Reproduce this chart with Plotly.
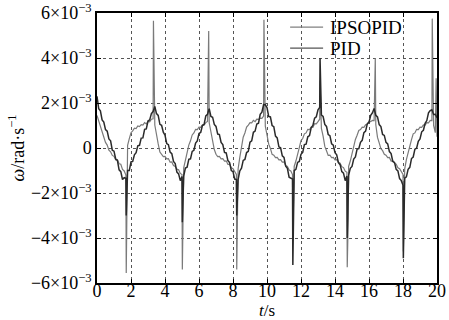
import numpy as np
import plotly.graph_objects as go

# time grid (s) for the sampled curves
t_base = [round(0.1 * i, 1) for i in range(201)]

# PID response (units of 1e-3 rad/s)
pid_v = [
    2.3, 1.75, 1.65, 1.25, 1.15, 0.82, 0.75, 0.4, 0.32, -0.1,
    -0.14, -0.49, -0.55, -0.97, -1.05, -1.4, -1.32, -1.35, -1.0, -1.0,
    -0.62, -0.6, -0.3, -0.21, 0.1, 0.12, 0.44, 0.45, 0.83, 0.85,
    1.2, 1.25, 1.53, 1.62, 1.85, 1.53, 1.45, 1.05, 1.01, 0.7,
    0.57, 0.2, 0.15, -0.18, -0.25, -0.6, -0.69, -1.07, -1.15, -1.45,
    -1.27, -1.25, -0.89, -0.85, -0.5, -0.48, -0.15, -0.1, 0.22, 0.31,
    0.65, 0.69, 1.0, 1.05, 1.43, 1.5, 1.75, 1.4, 1.37, 1.05,
    0.96, 0.62, 0.6, 0.25, 0.15, -0.2, -0.22, -0.56, -0.65, -1.0,
    -1.05, -1.38, -1.4, -1.4, -1.02, -0.9, -0.55, -0.51, -0.2, -0.15,
    0.26, 0.32, 0.7, 0.75, 1.07, 1.1, 1.5, 1.59, 1.93, 1.92,
    1.8, 1.4, 1.38, 1.0, 0.95, 0.53, 0.45, 0.05, 0.01, -0.35,
    -0.42, -0.81, -0.9, -1.3, -1.34, -1.38, -1.0, -0.95, -0.64, -0.6,
    -0.28, -0.2, 0.15, 0.17, 0.5, 0.55, 0.91, 1.0, 1.33, 1.39,
    1.7, 1.8, 1.47, 1.4, 1.05, 0.96, 0.6, 0.55, 0.19, 0.13,
    -0.21, -0.3, -0.65, -0.74, -1.05, -1.12, -1.45, -1.25, -1.21, -0.9,
    -0.82, -0.49, -0.4, -0.05, -0.03, 0.25, 0.34, 0.68, 0.75, 1.07,
    1.14, 1.45, 1.56, 1.76, 1.45, 1.38, 1.04, 0.95, 0.6, 0.56,
    0.25, 0.18, -0.16, -0.25, -0.6, -0.64, -0.95, -1.02, -1.36, -1.45,
    -1.65, -1.34, -1.28, -0.95, -0.86, -0.47, -0.4, -0.05, -0.01, 0.3,
    0.4, 0.72, 0.79, 1.1, 1.22, 1.56, 1.66, 1.7, 1.49, 1.5,
    1.35,
]

# IPSOPID response (units of 1e-3 rad/s)
ipso_v = [
    1.45, 1.2, 1.05, 0.72, 0.55, 0.25, 0.13, -0.1, -0.17, -0.33,
    -0.37, -0.53, -0.52, -0.7, -0.72, -0.95, -1.02, -1.2, 0.12, 0.42,
    0.68, 0.76, 0.88, 0.86, 0.98, 0.95, 1.04, 1.02, 1.13, 1.07,
    1.18, 1.16, 1.28, 1.3, 1.02, 0.5, 0.18, -0.18, -0.27, -0.38,
    -0.37, -0.48, -0.47, -0.63, -0.62, -0.78, -0.82, -0.94, -0.97, -1.13,
    -1.18, -0.88, -0.52, -0.23, 0.13, 0.32, 0.58, 0.67, 0.83, 0.82,
    0.93, 0.92, 1.03, 1.02, 1.13, 1.18, 1.12, 0.72, 0.27, -0.07,
    -0.28, -0.38, -0.37, -0.48, -0.47, -0.58, -0.57, -0.73, -0.72, -0.88,
    -0.92, -1.08, -1.17, -0.93, -0.42, 0.07, 0.48, 0.67, 0.93, 1.02,
    1.13, 1.12, 1.23, 1.17, 1.28, 1.27, 1.33, 1.32, 1.42, 0.97,
    0.58, 0.17, -0.02, -0.28, -0.32, -0.43, -0.42, -0.53, -0.52, -0.63,
    -0.62, -0.78, -0.82, -0.98, -1.02, -1.18, -0.82, -0.58, -0.22, 0.02,
    0.33, 0.42, 0.63, 0.67, 0.83, 0.82, 0.93, 0.92, 1.08, 1.07,
    1.17, 1.28, 0.87, 0.53, 0.07, -0.12, -0.33, -0.32, -0.43, -0.42,
    -0.53, -0.52, -0.63, -0.67, -0.83, -0.87, -1.03, -1.08, -0.82, -0.58,
    -0.22, 0.02, 0.38, 0.57, 0.78, 0.82, 0.93, 0.92, 1.03, 1.07,
    1.18, 1.17, 1.23, 1.22, 1.03, 0.47, 0.23, -0.03, -0.12, -0.28,
    -0.32, -0.43, -0.42, -0.58, -0.57, -0.68, -0.72, -0.88, -0.92, -1.08,
    -1.17, -0.93, -0.52, -0.18, 0.18, 0.37, 0.63, 0.67, 0.83, 0.82,
    0.93, 0.92, 1.03, 1.02, 1.13, 1.12, 1.23, 1.22, 1.0, 0.68,
    0.5,
]

# spikes at the direction reversals
ipso_spike_t = [1.72, 3.32, 5.02, 6.57, 8.22, 9.82, 11.52, 13.12, 14.72, 14.78, 16.37, 18.02, 18.06, 19.72, 19.95]
ipso_spike_v = [-5.55, 5.65, -5.4, 5.2, -5.4, 5.7, -4.0, 3.0, -5.3, -3.1, 4.0, -4.6, -3.4, 5.75, 3.1]
pid_spike_t = [1.72, 5.02, 8.22, 11.52, 13.12, 14.72, 18.02]
pid_spike_v = [-3.0, -3.3, -3.0, -5.2, 4.0, -4.0, -4.9]

x_ticks = list(range(0, 21, 2))
y_ticks = [-6, -4, -2, 0, 2, 4, 6]
y_ticktext = ["−6×10<sup>−3</sup>", "−4×10<sup>−3</sup>", "−2×10<sup>−3</sup>", "0",
              "2×10<sup>−3</sup>", "4×10<sup>−3</sup>", "6×10<sup>−3</sup>"]
series_names = ["IPSOPID", "PID"]
series_colors = ["#7a7a7a", "#2a2a2a"]
legend_line_colors = ["#808080", "#555555"]


def merge(tb, vb, ts, vs):
    t = np.array(list(tb) + list(ts))
    v = np.array(list(vb) + list(vs))
    o = np.argsort(t, kind="stable")
    return t[o], v[o]


t_ip, v_ip = merge(t_base, ipso_v, ipso_spike_t, ipso_spike_v)
t_pid, v_pid = merge(t_base, pid_v, pid_spike_t, pid_spike_v)

FONT = "Times New Roman, Liberation Serif, serif"
FS = 18

fig = go.Figure()
fig.add_trace(go.Scatter(x=t_ip, y=v_ip, mode="lines", name=series_names[0],
                         line=dict(color=series_colors[0], width=1.2)))
fig.add_trace(go.Scatter(x=t_pid, y=v_pid, mode="lines", name=series_names[1],
                         line=dict(color=series_colors[1], width=1.5)))

axis_common = dict(
    automargin=False,
    showline=True, linecolor="black", linewidth=1.5, mirror="ticks",
    ticks="inside", ticklen=4, tickcolor="black", tickwidth=1,
    showgrid=True, gridcolor="#555555", gridwidth=1, griddash="dot",
    zeroline=False, tickfont=dict(family=FONT, size=FS, color="black"),
)

# legend drawn by hand (compact, white box over the grid)
shapes = [dict(type="rect", xref="paper", yref="paper", x0=0.553, x1=0.965,
               y0=0.850, y1=0.995, fillcolor="white", line=dict(width=0),
               layer="between")]
annotations = []
leg_rows = [0.948, 0.870]
for name, col, yy in zip(series_names, legend_line_colors, leg_rows):
    shapes.append(dict(type="line", xref="paper", yref="paper", x0=0.568, x1=0.665,
                       y0=yy, y1=yy, line=dict(color=col, width=1.3)))
    annotations.append(dict(text=name, xref="paper", yref="paper", x=0.683, y=yy,
                            xanchor="left", yanchor="middle", showarrow=False,
                            borderpad=0, font=dict(family=FONT, size=19, color="black")))
annotations.append(dict(text="<i>t</i>/s", xref="paper", yref="paper", x=0.5, y=-0.139,
                        xanchor="center", yanchor="bottom", showarrow=False,
                        borderpad=0, font=dict(family=FONT, size=17, color="black")))

fig.update_layout(
    template="none",
    width=449, height=320,
    margin=dict(l=97, r=12, t=13, b=37, autoexpand=False),
    paper_bgcolor="white", plot_bgcolor="white",
    font=dict(family=FONT, size=FS, color="black"),
    showlegend=False,
    shapes=shapes,
    annotations=annotations,
    xaxis=dict(range=[0, 20], tickvals=x_ticks, ticklabelstandoff=-9,
               **axis_common),
    yaxis=dict(range=[-6, 6], tickvals=y_ticks, ticktext=y_ticktext,
               title=dict(text="<i>ω</i>/rad·s<sup>−1</sup>", standoff=2,
                          font=dict(family=FONT, size=FS)),
               **axis_common),
)

fig.write_html("out.html", config={"displayModeBar": False},
               post_script="document.body.style.margin='0';document.body.style.padding='0';")
